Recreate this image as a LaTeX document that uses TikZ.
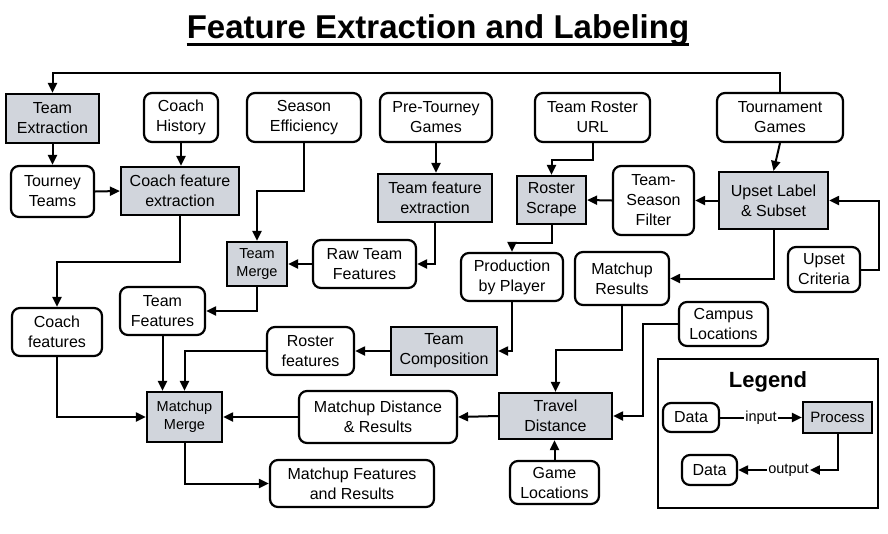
\documentclass[tikz,border=0pt]{standalone}
\usepackage{fontspec}
\setmainfont{Liberation Sans}
\usetikzlibrary{arrows.meta,positioning}
\definecolor{procfill}{HTML}{D1D5DC}

\begin{document}
\begin{tikzpicture}[x=1pt,y=-1pt,
  data/.style={draw,line width=2.2pt,rounded corners=8pt,align=center,
               inner sep=0pt,font=\fontsize{16}{20}\selectfont},
  proc/.style={draw,line width=2.2pt,fill=procfill,align=center,
               inner sep=0pt,font=\fontsize{16}{20}\selectfont},
  small/.style={font=\fontsize{14.5}{18}\selectfont},
  lnk/.style={line width=2pt,-{Triangle[length=10pt,width=9pt]}}]

\useasboundingbox (0,0) rectangle (888,533);

\node[font=\bfseries\fontsize{33}{38}\selectfont,inner sep=0pt,anchor=base]
      (title) at (438,38.5) {Feature Extraction and Labeling};
\draw[line width=3pt] ([yshift=-5.5pt]title.base west) -- ([yshift=-5.5pt]title.base east);

% top row
\node[proc,minimum width=93,minimum height=49] (teamext) at (52.5,118.5) {Team\\Extraction};
\node[data,minimum width=74,minimum height=49] (coachhist) at (181,117.5) {Coach\\History};
\node[data,minimum width=114,minimum height=49] (seaseff) at (304,117.5) {Season\\Efficiency};
\node[data,minimum width=112,minimum height=49] (pretourney) at (436,117.5) {Pre-Tourney\\Games};
\node[data,minimum width=115,minimum height=49] (rosterurl) at (592.5,117.5) {Team Roster\\URL};
\node[data,minimum width=126,minimum height=49] (tourgames) at (780,117.5) {Tournament\\Games};

% second row
\node[data,minimum width=83,minimum height=51] (tourteams) at (52.5,191.5) {Tourney\\Teams};
\node[proc,minimum width=118,minimum height=48] (coachfeat) at (180,191) {Coach feature\\extraction};
\node[proc,minimum width=114,minimum height=48] (teamfeat) at (435,198) {Team feature\\extraction};
\node[proc,minimum width=69,minimum height=48] (rosterscrape) at (551.5,200) {Roster\\Scrape};
\node[data,minimum width=81,minimum height=69] (tsfilter) at (653.5,200.5) {Team-\\Season\\Filter};
\node[proc,minimum width=109,minimum height=57] (upsetlabel) at (773.5,200.5) {Upset Label\\\& Subset};

% middle
\node[proc,small,minimum width=60,minimum height=44] (teammerge) at (257,264) {Team\\Merge};
\node[data,minimum width=103,minimum height=48] (rawteam) at (364.5,264) {Raw Team\\Features};
\node[data,minimum width=102,minimum height=48] (prodplayer) at (512,277) {Production\\by Player};
\node[data,minimum width=94,minimum height=53] (matchres) at (622,278.5) {Matchup\\Results};
\node[data,minimum width=72,minimum height=45] (upsetcrit) at (824,269.5) {Upset\\Criteria};
\node[data,minimum width=85,minimum height=48] (teamfeats) at (162.5,311) {Team\\Features};
\node[data,minimum width=90,minimum height=48] (coachfeats) at (57,332) {Coach\\features};
\node[data,minimum width=89,minimum height=44] (campus) at (723.5,324) {Campus\\Locations};
\node[data,minimum width=87,minimum height=48] (rosterfeats) at (310.5,351) {Roster\\features};
\node[proc,minimum width=106,minimum height=48] (teamcomp) at (444,351) {Team\\Composition};

% bottom
\node[proc,small,minimum width=75,minimum height=50] (mmerge) at (184.5,417) {Matchup\\Merge};
\node[data,minimum width=158,minimum height=52] (mdist) at (378,417) {Matchup Distance\\\& Results};
\node[proc,minimum width=113,minimum height=46] (travel) at (555.5,416) {Travel\\Distance};
\node[data,minimum width=164,minimum height=47] (mfeatres) at (352,483.5) {Matchup Features\\and Results};
\node[data,minimum width=89,minimum height=43] (gameloc) at (554.5,482.5) {Game\\Locations};

% legend
\node[draw,line width=1.3pt,minimum width=220,minimum height=149] (legendbox) at (768,433.5) {};
\node[font=\bfseries\fontsize{22}{26}\selectfont] (legendtitle) at (768,382) {Legend};
\node[data,minimum width=56,minimum height=29] (ldata1) at (691,417.5) {Data};
\node[proc,minimum width=69,minimum height=31,font=\fontsize{15}{18}\selectfont] (lproc) at (837.5,417.5) {Process};
\node[data,minimum width=55,minimum height=30] (ldata2) at (709.5,470) {Data};
\node[small,inner sep=1pt] (loutput) at (788.5,470) {output};

% connectors
\draw[lnk] (tourgames.north) -- ++(0,-19) -| (teamext.north);
\draw[lnk] (teamext.south) -- (tourteams.north);
\draw[lnk] (coachhist.south) -- (coachhist.south |- coachfeat.north);
\draw[lnk] (tourteams.east) -- (coachfeat.west);
\draw[lnk] (seaseff.south) -- ++(0,48) -| (teammerge.north);
\draw[lnk] (pretourney.south) -- (pretourney.south |- teamfeat.north);
\draw[lnk] (teamfeat.south) |- (rawteam.east);
\draw[lnk] (rawteam.west) -- (teammerge.east);
\draw[lnk] (teammerge.south) |- (teamfeats.east);
\draw[lnk] (coachfeat.south) -- ++(0,46) -| (coachfeats.north);
\draw[lnk] (rosterurl.south) -- ++(0,17) -| (rosterscrape.north);
\draw[lnk] (tsfilter.west) -- (rosterscrape.east);
\draw[lnk] (upsetlabel.west) -- (tsfilter.east);
\draw[lnk] (tourgames.south) -- (upsetlabel.north);
\draw[lnk] (upsetcrit.east) -- ++(18,0) |- (upsetlabel.east);
\draw[lnk] (upsetlabel.south) |- (matchres.east);
\draw[lnk] (rosterscrape.south) -- ++(0,18) -| (prodplayer.north);
\draw[lnk] (prodplayer.south) |- (teamcomp.east);
\draw[lnk] (teamcomp.west) -- (rosterfeats.east);
\draw[lnk] (rosterfeats.west) -| (mmerge.north);
\draw[lnk] (teamfeats.south) -- (teamfeats.south |- mmerge.north);
\draw[lnk] (coachfeats.south) |- (mmerge.west);
\draw[lnk] (mdist.west) -- (mmerge.east);
\draw[lnk] (mmerge.south) |- (mfeatres.west);
\draw[lnk] (matchres.south) -- ++(0,44) -| (travel.north);
\draw[lnk] (campus.west) -- ++(-35,0) |- (travel.east);
\draw[lnk] (travel.west) -- (mdist.east);
\draw[lnk] (gameloc.north) -- (gameloc.north |- travel.south);
\draw[lnk] (ldata1.east) -- node[fill=white,small,inner sep=1pt] (linput) {input} (lproc.west);
\draw[lnk] (lproc.south) |- (loutput.east);
\draw[lnk] (loutput.west) -- (ldata2.east);

\end{tikzpicture}
\end{document}
